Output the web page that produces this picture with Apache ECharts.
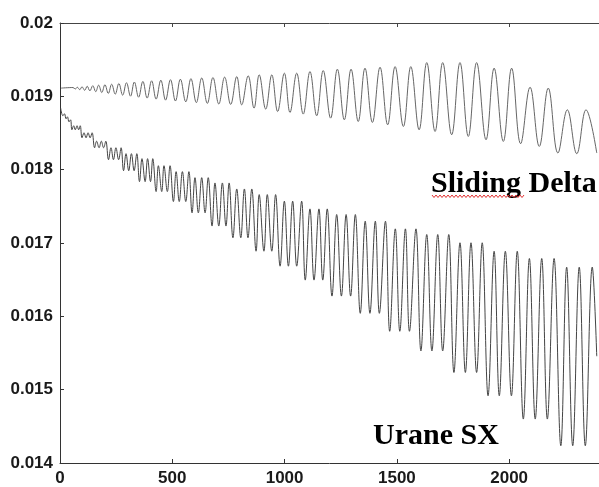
<!DOCTYPE html>
<html><head><meta charset="utf-8">
<script src="https://cdn.jsdelivr.net/npm/echarts@6/dist/echarts.min.js"></script>
<style>html,body{margin:0;padding:0;background:#fff}#c{width:599px;height:487px}</style>
</head><body><div id="c"></div>
<script>
// Sliding Delta: successive peaks / troughs (iteration, value)
const slidingX = [5,
  58,68,77,88,98,110,121,133,146,159,172,186,200,215,230,246,262,279,296,314,331,350,369,388,408,428,449,470,492,514,536,560,583,607,631,656,681,707,733,760,787,
  809,838,864,887,916,943,969,999,1024,1054,1083,1113,1143,1172,1205,1235,1266,1296,1328,1358,1391,1425,1459,1492,1529,1562,1599,1633,1670,1704,1744,1781,1818,1855,1897,1933,1974,2011,2051,2093,2134,2174,2217,2259,2301,2342,2390];
const slidingY = [0.019112,
  0.019120,0.019100,0.019124,0.019091,0.019130,0.019082,0.019138,0.019075,0.019145,0.019064,0.019152,0.019052,0.019158,0.019040,0.019165,0.019030,0.019175,0.019016,0.019185,0.019002,0.019195,0.018988,0.019203,0.018976,0.019212,0.018962,0.019220,0.018948,0.019227,0.018936,0.019234,0.018925,0.019241,0.018914,0.019250,0.018904,0.019256,0.018896,0.019262,0.018890,0.019269,
  0.018884,0.019279,0.018839,0.019293,0.018826,0.019293,0.018793,0.019316,0.018780,0.019316,0.018758,0.019337,0.018735,0.019351,0.018703,0.019370,0.018680,0.019370,0.018657,0.019384,0.018644,0.019397,0.018612,0.019405,0.018589,0.019405,0.018544,0.019460,0.018521,0.019460,0.018476,0.019460,0.018453,0.019460,0.018408,0.019384,0.018385,0.019384,0.018354,0.019125,0.018317,0.019112,0.018227,0.018816,0.018218,0.018816,0.018227];

// Urane SX: successive troughs / peaks (iteration, value)
const uraneX = [3,
  13,20,27,33,40,47, 53,61,68,76,83,90, 98,107,116,125,134,143, 154,163,174,184,194,204,
  216,227,238,249,261,272, 283,294,306,318,330,342, 354,365,379,390,403,413, 428,438,453,463,478,490,
  505,517,531,545,560,574, 588,601,616,631,646,660, 677,690,707,723,739,753, 770,787,805,821,837,854,
  873,887,908,923,943,960, 980,999,1017,1036,1054,1076, 1092,1113,1131,1153,1170,1190, 1211,1232,1253,1274,1294,1315,
  1337,1359,1380,1404,1422,1449, 1468,1493,1513,1538,1556,1585, 1607,1633,1656,1682,1704,1731, 1754,1781,1805,1830,1855,1880,
  1906,1933,1956,1983,2010,2036, 2063,2090,2116,2145,2170,2200, 2230,2256,2283,2312,2339,2370,
  2390];
const uraneY = [0.018839,
  0.018735,0.018762,0.018694,0.018721,0.018653,0.018680,
  0.018544,0.018599,0.018544,0.018599,0.018544,0.018599,
  0.018435,0.018503,0.018435,0.018503,0.018435,0.018503,
  0.018299,0.018388,0.018299,0.018388,0.018299,0.018388,
  0.018136,0.018299,0.018136,0.018299,0.018136,0.018299,
  0.017986,0.018218,0.017986,0.018218,0.017986,0.018218,
  0.017837,0.018150,0.017837,0.018150,0.017837,0.018150,
  0.017701,0.018054,0.017701,0.018054,0.017701,0.018054,
  0.017565,0.017973,0.017565,0.017973,0.017565,0.017973,
  0.017411,0.017891,0.017411,0.017891,0.017411,0.017891,
  0.017231,0.017819,0.017231,0.017819,0.017231,0.017819,
  0.017071,0.017737,0.017071,0.017737,0.017071,0.017737,
  0.016888,0.017660,0.016888,0.017660,0.016888,0.017660,
  0.016684,0.017571,0.016684,0.017571,0.016684,0.017571,
  0.016494,0.017465,0.016494,0.017465,0.016494,0.017465,
  0.016276,0.017388,0.016276,0.017388,0.016276,0.017388,
  0.016041,0.017297,0.016041,0.017297,0.016041,0.017297,
  0.015796,0.017193,0.015796,0.017193,0.015796,0.017193,
  0.015528,0.017116,0.015528,0.017116,0.015528,0.017116,
  0.015234,0.017003,0.015234,0.017003,0.015234,0.017003,
  0.014916,0.016888,0.014916,0.016888,0.014916,0.016888,
  0.014599,0.016789,0.014599,0.016789,0.014599,0.016789,
  0.014235,0.016671,0.014235,0.016671,0.014235,0.016671,
  0.015456];

const seriesNames = ['Sliding Delta', 'Urane SX'];
const xTickValues = [0, 500, 1000, 1500, 2000];
const yTickValues = [0.014, 0.015, 0.016, 0.017, 0.018, 0.019, 0.02];

function pairs(xs, ys) {
  const n = Math.min(xs.length, ys.length), out = [];
  for (let i = 0; i < n; i++) out.push([xs[i], ys[i]]);
  return out;
}

const chart = echarts.init(document.getElementById('c'), null, { renderer: 'canvas' });

// decorative red spell-check squiggle under "Sliding"
const squiggle = [];
for (let i = 0; i <= 46; i++) squiggle.push([i * 2, i % 2 ? 2.5 : 0]);

const labelFont = 'Liberation Sans, Arial, sans-serif';
const axisCol = '#333';

chart.setOption({
  animation: false,
  backgroundColor: '#fff',
  grid: { left: 60, right: 0, top: 23, bottom: 23 },
  xAxis: [{
    type: 'value', min: 0, max: 2400, interval: 500,
    axisLine: { lineStyle: { color: axisCol, width: 1 } },
    axisTick: { inside: true, length: 4, lineStyle: { color: axisCol } },
    axisLabel: { fontFamily: labelFont, fontSize: 17, fontWeight: 'bold', color: '#1a1a1a', margin: 7, showMaxLabel: false,
                 formatter: v => xTickValues.indexOf(v) >= 0 ? String(v) : '' },
    splitLine: { show: false }
  }, {
    type: 'value', position: 'top', min: 0, max: 2400, interval: 500,
    axisLine: { show: true, lineStyle: { color: '#444', width: 1 } },
    axisTick: { show: true, inside: true, length: 4, lineStyle: { color: '#444' } },
    axisLabel: { show: false }, splitLine: { show: false }
  }],
  yAxis: {
    type: 'value', min: 0.014, max: 0.02, interval: 0.001,
    axisLine: { show: true, lineStyle: { color: axisCol, width: 1 } },
    axisTick: { show: true, inside: true, length: 4, lineStyle: { color: axisCol } },
    axisLabel: { fontFamily: labelFont, fontSize: 17, fontWeight: 'bold', color: '#1a1a1a', margin: 7,
                 formatter: v => String(+v.toFixed(3)) },
    splitLine: { show: false }
  },
  series: [
    { name: seriesNames[0], type: 'line', data: pairs(slidingX, slidingY), showSymbol: false,
      smooth: 0.4, lineStyle: { width: 1, color: '#666' } },
    { name: seriesNames[1], type: 'line', data: pairs(uraneX, uraneY), showSymbol: false,
      smooth: 0.4, lineStyle: { width: 1, color: '#444' } }
  ],
  graphic: [
    { type: 'text', x: 431, y: 184, style: { text: seriesNames[0], fill: '#000',
      font: 'bold 30px "Liberation Serif", "Times New Roman", serif', verticalAlign: 'middle' } },
    { type: 'polyline', x: 432, y: 195, shape: { points: squiggle },
      style: { stroke: '#e03030', lineWidth: 1, fill: null } },
    { type: 'text', x: 373, y: 436, style: { text: seriesNames[1], fill: '#000',
      font: 'bold 30px "Liberation Serif", "Times New Roman", serif', verticalAlign: 'middle' } }
  ]
});
</script>
</body></html>
